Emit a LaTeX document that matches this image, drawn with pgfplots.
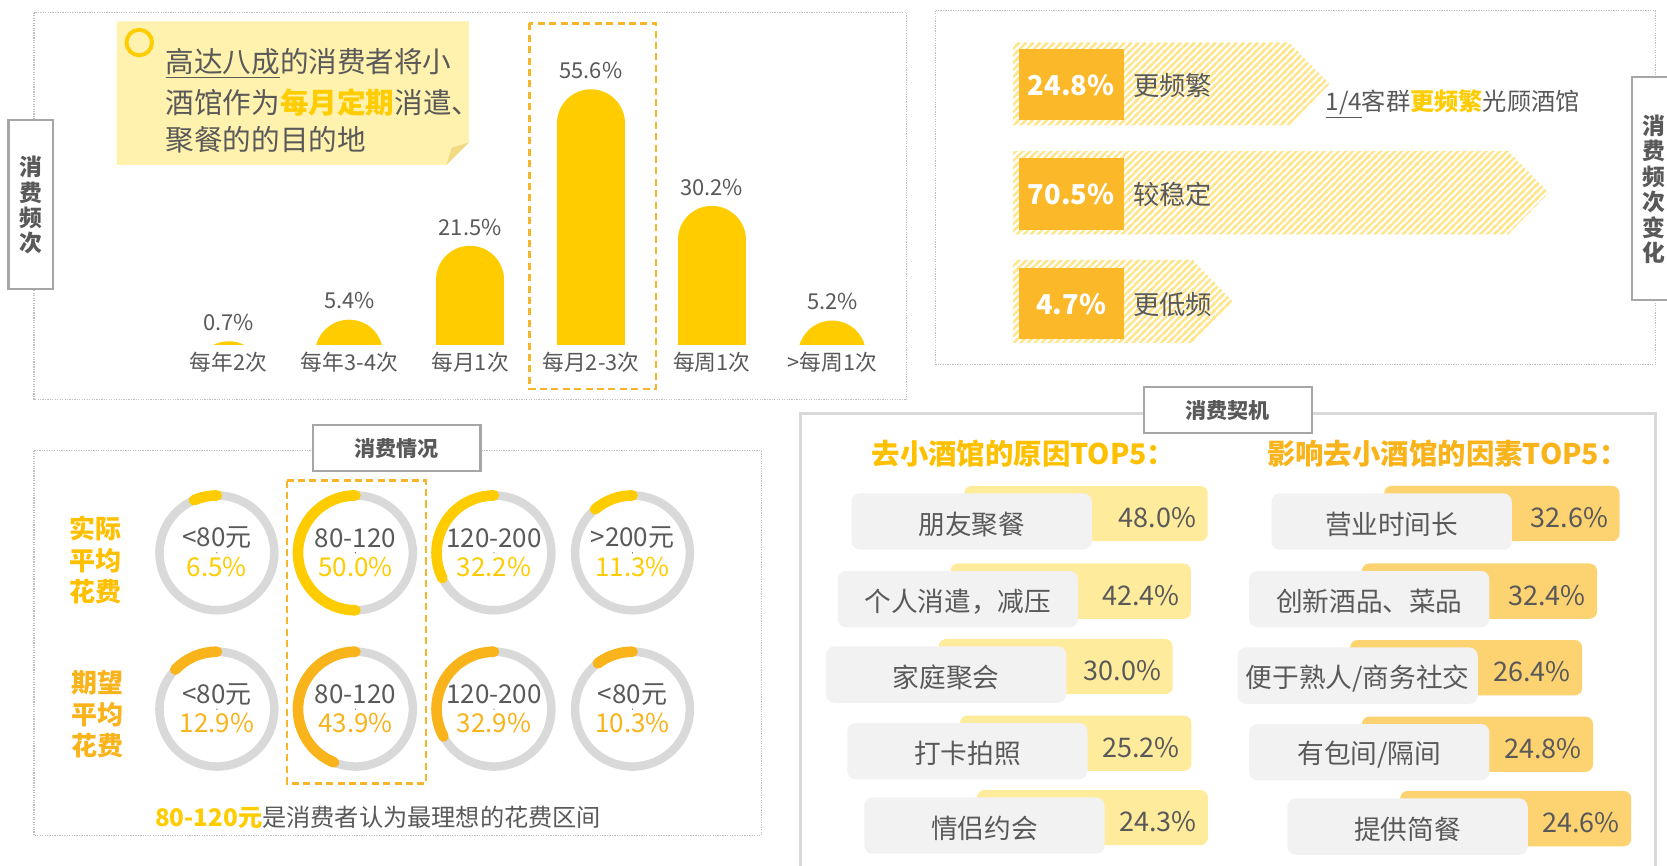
\documentclass[border=0pt]{standalone}
\usepackage{pgfplots}
\pgfplotsset{compat=1.18}
\usepackage{fontspec}
\setmainfont{Noto Sans CJK SC}
\usetikzlibrary{patterns}

\definecolor{barY}{HTML}{FFCC00}
\definecolor{txtY}{HTML}{FFC000}
\definecolor{orgY}{HTML}{F9B31B}
\definecolor{sqO}{HTML}{FBB829}
\definecolor{gtxt}{HTML}{595959}
\definecolor{ringG}{HTML}{D9D9D9}
\definecolor{cardY}{HTML}{FFEB9C}
\definecolor{cardO}{HTML}{FDD271}
\definecolor{cardG}{HTML}{F2F2F2}
\definecolor{callY}{HTML}{FFF1AE}
\definecolor{foldY}{HTML}{F1DA82}
\definecolor{hatchY}{HTML}{FFE68C}
\definecolor{bordG}{HTML}{BFBFBF}
\definecolor{tabG}{HTML}{A6A6A6}
\definecolor{dashO}{HTML}{F7B52C}

% one pixel of the 1568 px wide reference
\newcommand\pxu{0.0213cm}
\newcommand\fsz[2]{\fontsize{#1}{#2}\selectfont}
\pgfkeys{/pgf/number format/assume math mode=true}

% diagonal hatch for the arrows
\pgfdeclarepatternformonly{yhatch}{\pgfqpoint{-1pt}{-1pt}}{\pgfqpoint{5pt}{5pt}}{\pgfqpoint{4pt}{4pt}}{%
  \pgfsetlinewidth{1.3pt}%
  \pgfpathmoveto{\pgfqpoint{-1pt}{-1pt}}\pgfpathlineto{\pgfqpoint{5pt}{5pt}}%
  \pgfpathmoveto{\pgfqpoint{-1pt}{3pt}}\pgfpathlineto{\pgfqpoint{1pt}{5pt}}%
  \pgfpathmoveto{\pgfqpoint{3pt}{-1pt}}\pgfpathlineto{\pgfqpoint{5pt}{1pt}}%
  \pgfusepath{stroke}}

% arrow head put at the end of each bar
\pgfdeclareplotmark{atip}{%
  \pgfpathmoveto{\pgfpoint{-0.02cm}{0.8307cm}}%
  \pgfpathlineto{\pgfpoint{0.7881cm}{0cm}}%
  \pgfpathlineto{\pgfpoint{-0.02cm}{-0.8307cm}}%
  \pgfpathclose
  \pgfsetfillpattern{yhatch}{hatchY}%
  \pgfusepathqfill}

\tikzset{
  % round-topped bar, top of the cap at the value, foot clipped by the axis
  rbar/.style={draw=barY, line width=64*\pxu, line cap=round,
    shorten >=32*\pxu, shorten <=-40*\pxu},
  % same for bars lower than the cap radius
  rbars/.style={draw=barY, line width=64*\pxu, line cap=round,
    shorten >=32*\pxu, shorten <=40*\pxu},
  panel/.style={draw=bordG, line width=0.6pt, dash pattern=on 0.7pt off 0.7pt},
  tab/.style={draw=tabG, line width=1.2pt, fill=white},
  hl/.style={draw=dashO, line width=1.3pt, dash pattern=on 4pt off 2.5pt},
}

\pgfplotsset{
  donut/.style={scatter, only marks, mark=*, mark size=0.01pt,
    scatter/@pre marker code/.append code={%
      \pgfmathsetmacro\arcang{\pgfplotspointmetatransformed*0.36}%
      \draw[ringG, line width=8*\pxu] (0,0) circle[radius=54*\pxu];
      \draw[#1, line width=10*\pxu, line cap=round] (90:54*\pxu)
        arc[start angle=90, delta angle=\arcang, radius=54*\pxu];
    },
    every node near coord/.append style={text=#1}},
}

% one card of the TOP5 lists: grey box x, y, label, value, colour
\newcommand\card[5]{%
  \begin{axis}[at={({(#1+106)*\pxu},{-(#2+19)*\pxu})}, anchor=west,
    x=0.5*\pxu, y=26*\pxu, xmin=0, xmax=600, ymin=-1, ymax=1,
    hide axis, clip=false, point meta=explicit,
    nodes near coords={\pgfmathprintnumber[fixed,fixed zerofill,precision=1]{\pgfplotspointmeta}\%},
    every node near coord/.append style={anchor=east, xshift=-5*\pxu, yshift=-4*\pxu,
      text=gtxt, font=\fsz{15.4}{16}}]
  \addplot[xbar, bar width=52*\pxu, fill=#5, draw=none, rounded corners=7*\pxu,
    x filter/.expression={x+410}] coordinates {(#4,0) [#4]};
  \end{axis}
  \fill[cardG, rounded corners=8*\pxu] (#1,#2) rectangle ++(226,53);
  \node[text=gtxt, font=\fsz{15.2}{16}] at (#1+113,#2+29) {#3};
}

\begin{document}
\begin{tikzpicture}[x=\pxu, y=-\pxu]
\fill[white] (0,0) rectangle (1568,814);
\path[use as bounding box] (0,0) rectangle (1568,814);

% ---------- panel 1: frequency ----------
\draw[panel] (32,12) rectangle (853,376);
\draw[tab] (8,113) rectangle (50,272);
\node[text=gtxt, font=\bfseries\fsz{13}{14.5}, align=center] at (29,193) {消\\费\\频\\次};

\fill[callY] (110,20) -- (441,20) -- (441,134) -- (420,155) -- (110,155) -- cycle;
\fill[foldY] (441,134) -- (420,155) -- (425,139) -- cycle;
\draw[barY, line width=2.2pt] (131,40) circle[radius=12];
\node[anchor=west, text=gtxt, font=\fsz{16.3}{20}] at (150,60) {\underline{高达八成}的消费者将小};
\node[anchor=west, text=gtxt, font=\fsz{16.3}{20}] at (150,96) {酒馆作为{\bfseries\color{barY}每月定期}消遣、};
\node[anchor=west, text=gtxt, font=\fsz{16.3}{20}] at (150,131) {聚餐的的目的地};

\draw[hl] (498,22) rectangle (617,366);

\begin{axis}[at={({158.2*\pxu},{-324*\pxu})}, anchor=south west,
  x=113.6*\pxu, y=4.317*\pxu,
  xmin=-0.5, xmax=5.5, ymin=0, ymax=70, clip=true,
  axis line style={draw=none}, tick style={draw=none}, ytick=\empty,
  xtick={0,...,5},
  xticklabels={每年2次,每年3-4次,每月1次,每月2-3次,每周1次,>每周1次},
  xticklabel style={anchor=center, yshift=-17*\pxu, font=\fsz{12.4}{14}, text=gtxt},
]
\addplot[rbars] coordinates {(0,0) (0,0.7)};
\addplot[rbars] coordinates {(1,0) (1,5.4)};
\addplot[rbar] coordinates {(2,0) (2,21.5)};
\addplot[rbar] coordinates {(3,0) (3,55.6)};
\addplot[rbar] coordinates {(4,0) (4,30.2)};
\addplot[rbars] coordinates {(5,0) (5,5.2)};
\addplot[draw=none, point meta=explicit,
  nodes near coords={\pgfmathprintnumber[fixed,fixed zerofill,precision=1]{\pgfplotspointmeta}\%},
  every node near coord/.append style={anchor=south, yshift=4*\pxu, text=gtxt, font=\fsz{12.5}{14}}]
  coordinates {(0,0.7)[0.7] (1,5.4)[5.4] (2,21.5)[21.5] (3,55.6)[55.6] (4,30.2)[30.2] (5,5.2)[5.2]};
\end{axis}

% ---------- panel 2: change of frequency ----------
\draw[panel] (880,10) rectangle (1557,343);
\draw[tab] (1535,72) rectangle (1580,282);
\node[text=gtxt, font=\bfseries\fsz{13}{14.5}, align=center] at (1556,178) {消\\费\\频\\次\\变\\化};

\begin{axis}[at={({953*\pxu},{-385.75*\pxu})}, anchor=south west,
  x=4.515*\pxu, y=102.25*\pxu, xmin=0, xmax=130, ymin=0, ymax=3.5,
  hide axis, clip=false]
\addplot[xbar, bar width=78*\pxu, draw=none, pattern=yhatch, pattern color=hatchY,
  x filter/.expression={x+32.83}, mark=atip]
  coordinates {(24.8,3) (70.5,2) (4.7,1)};
\end{axis}

\foreach \yy/\pc/\lab in {46/24.8/更频繁, 149/70.5/较稳定, 252/4.7/更低频}{
  \fill[sqO] (958,\yy) rectangle ++(99,67);
  \node[text=white, font=\bfseries\fsz{15.6}{16}] at (1007.5,\yy+34) {\pc\%};
  \node[anchor=west, text=gtxt, font=\fsz{15}{16}] at (1060,\yy+34) {\lab};
}
\node[anchor=west, text=gtxt, font=\fsz{13.8}{16}] at (1241,98)
  {\underline{1/4}客群{\bfseries\color{barY}更频繁}光顾酒馆};

% ---------- panel 3: spending ----------
\draw[panel] (32,424) rectangle (716,786);
\draw[tab] (294,400) rectangle (452,443);
\node[text=gtxt, font=\bfseries\fsz{12}{14}] at (373,422) {消费情况};

\node[text=txtY, font=\bfseries\fsz{14.8}{18}, align=center] at (90,527) {实际\\平均\\花费};
\node[text=orgY, font=\bfseries\fsz{14.8}{18}, align=center] at (92,672) {期望\\平均\\花费};

\draw[hl] (270,452) rectangle (401,737);

\begin{axis}[at={({73.7*\pxu},{-814*\pxu})}, anchor=south west,
  x=130.3*\pxu, y=147*\pxu, xmin=0, xmax=5, ymin=0, ymax=3,
  hide axis, clip=false,
  point meta=explicit, point meta min=0, point meta max=100,
  nodes near coords={\pgfmathprintnumber[fixed,fixed zerofill,precision=1]{\pgfplotspointmeta}\%},
  every node near coord/.append style={anchor=center, yshift=-13*\pxu, font=\fsz{14.8}{16}},
]
\addplot[donut=barY] coordinates {(1,2)[6.5] (2,2)[50.0] (3,2)[32.2] (4,2)[11.3]};
\addplot[donut=orgY] coordinates {(1,1)[12.9] (2,1)[43.9] (3,1)[32.9] (4,1)[10.3]};
\node[text=gtxt, font=\fsz{14.8}{16}, yshift=14*\pxu] at (axis cs:1,2) {<80元};
\node[text=gtxt, font=\fsz{14.8}{16}, yshift=14*\pxu] at (axis cs:2,2) {80-120};
\node[text=gtxt, font=\fsz{14.8}{16}, yshift=14*\pxu] at (axis cs:3,2) {120-200};
\node[text=gtxt, font=\fsz{14.8}{16}, yshift=14*\pxu] at (axis cs:4,2) {>200元};
\node[text=gtxt, font=\fsz{14.8}{16}, yshift=14*\pxu] at (axis cs:1,1) {<80元};
\node[text=gtxt, font=\fsz{14.8}{16}, yshift=14*\pxu] at (axis cs:2,1) {80-120};
\node[text=gtxt, font=\fsz{14.8}{16}, yshift=14*\pxu] at (axis cs:3,1) {120-200};
\node[text=gtxt, font=\fsz{14.8}{16}, yshift=14*\pxu] at (axis cs:4,1) {<80元};
\end{axis}

\node[anchor=west, text=gtxt, font=\fsz{13.8}{16}] at (140,769)
  {{\bfseries\color{barY}80-120元}是消费者认为最理想的花费区间};

% ---------- panel 4: occasions ----------
\draw[ringG, line width=1.8pt] (753,840) -- (753,389) -- (1557,389) -- (1557,840);
\draw[tab] (1076,364) rectangle (1234,407);
\node[text=gtxt, font=\bfseries\fsz{12}{14}] at (1155,386) {消费契机};

\node[anchor=west, text=txtY, font=\bfseries\fsz{16.2}{18}] at (814,427) {去小酒馆的原因TOP5：};
\node[anchor=west, text=orgY, font=\bfseries\fsz{16.2}{18}] at (1186,427) {影响去小酒馆的因素TOP5：};

\card{801}{464}{朋友聚餐}{48.0}{cardY}
\card{788}{537}{个人消遣，减压}{42.4}{cardY}
\card{777}{608}{家庭聚会}{30.0}{cardY}
\card{797}{680}{打卡拍照}{25.2}{cardY}
\card{813}{750}{情侣约会}{24.3}{cardY}

\card{1196}{464}{营业时间长}{32.6}{cardO}
\card{1175}{537}{创新酒品、菜品}{32.4}{cardO}
\card{1164}{609}{便于熟人/商务社交}{26.4}{cardO}
\card{1175}{681}{有包间/隔间}{24.8}{cardO}
\card{1211}{751}{提供简餐}{24.6}{cardO}

\end{tikzpicture}
\end{document}
